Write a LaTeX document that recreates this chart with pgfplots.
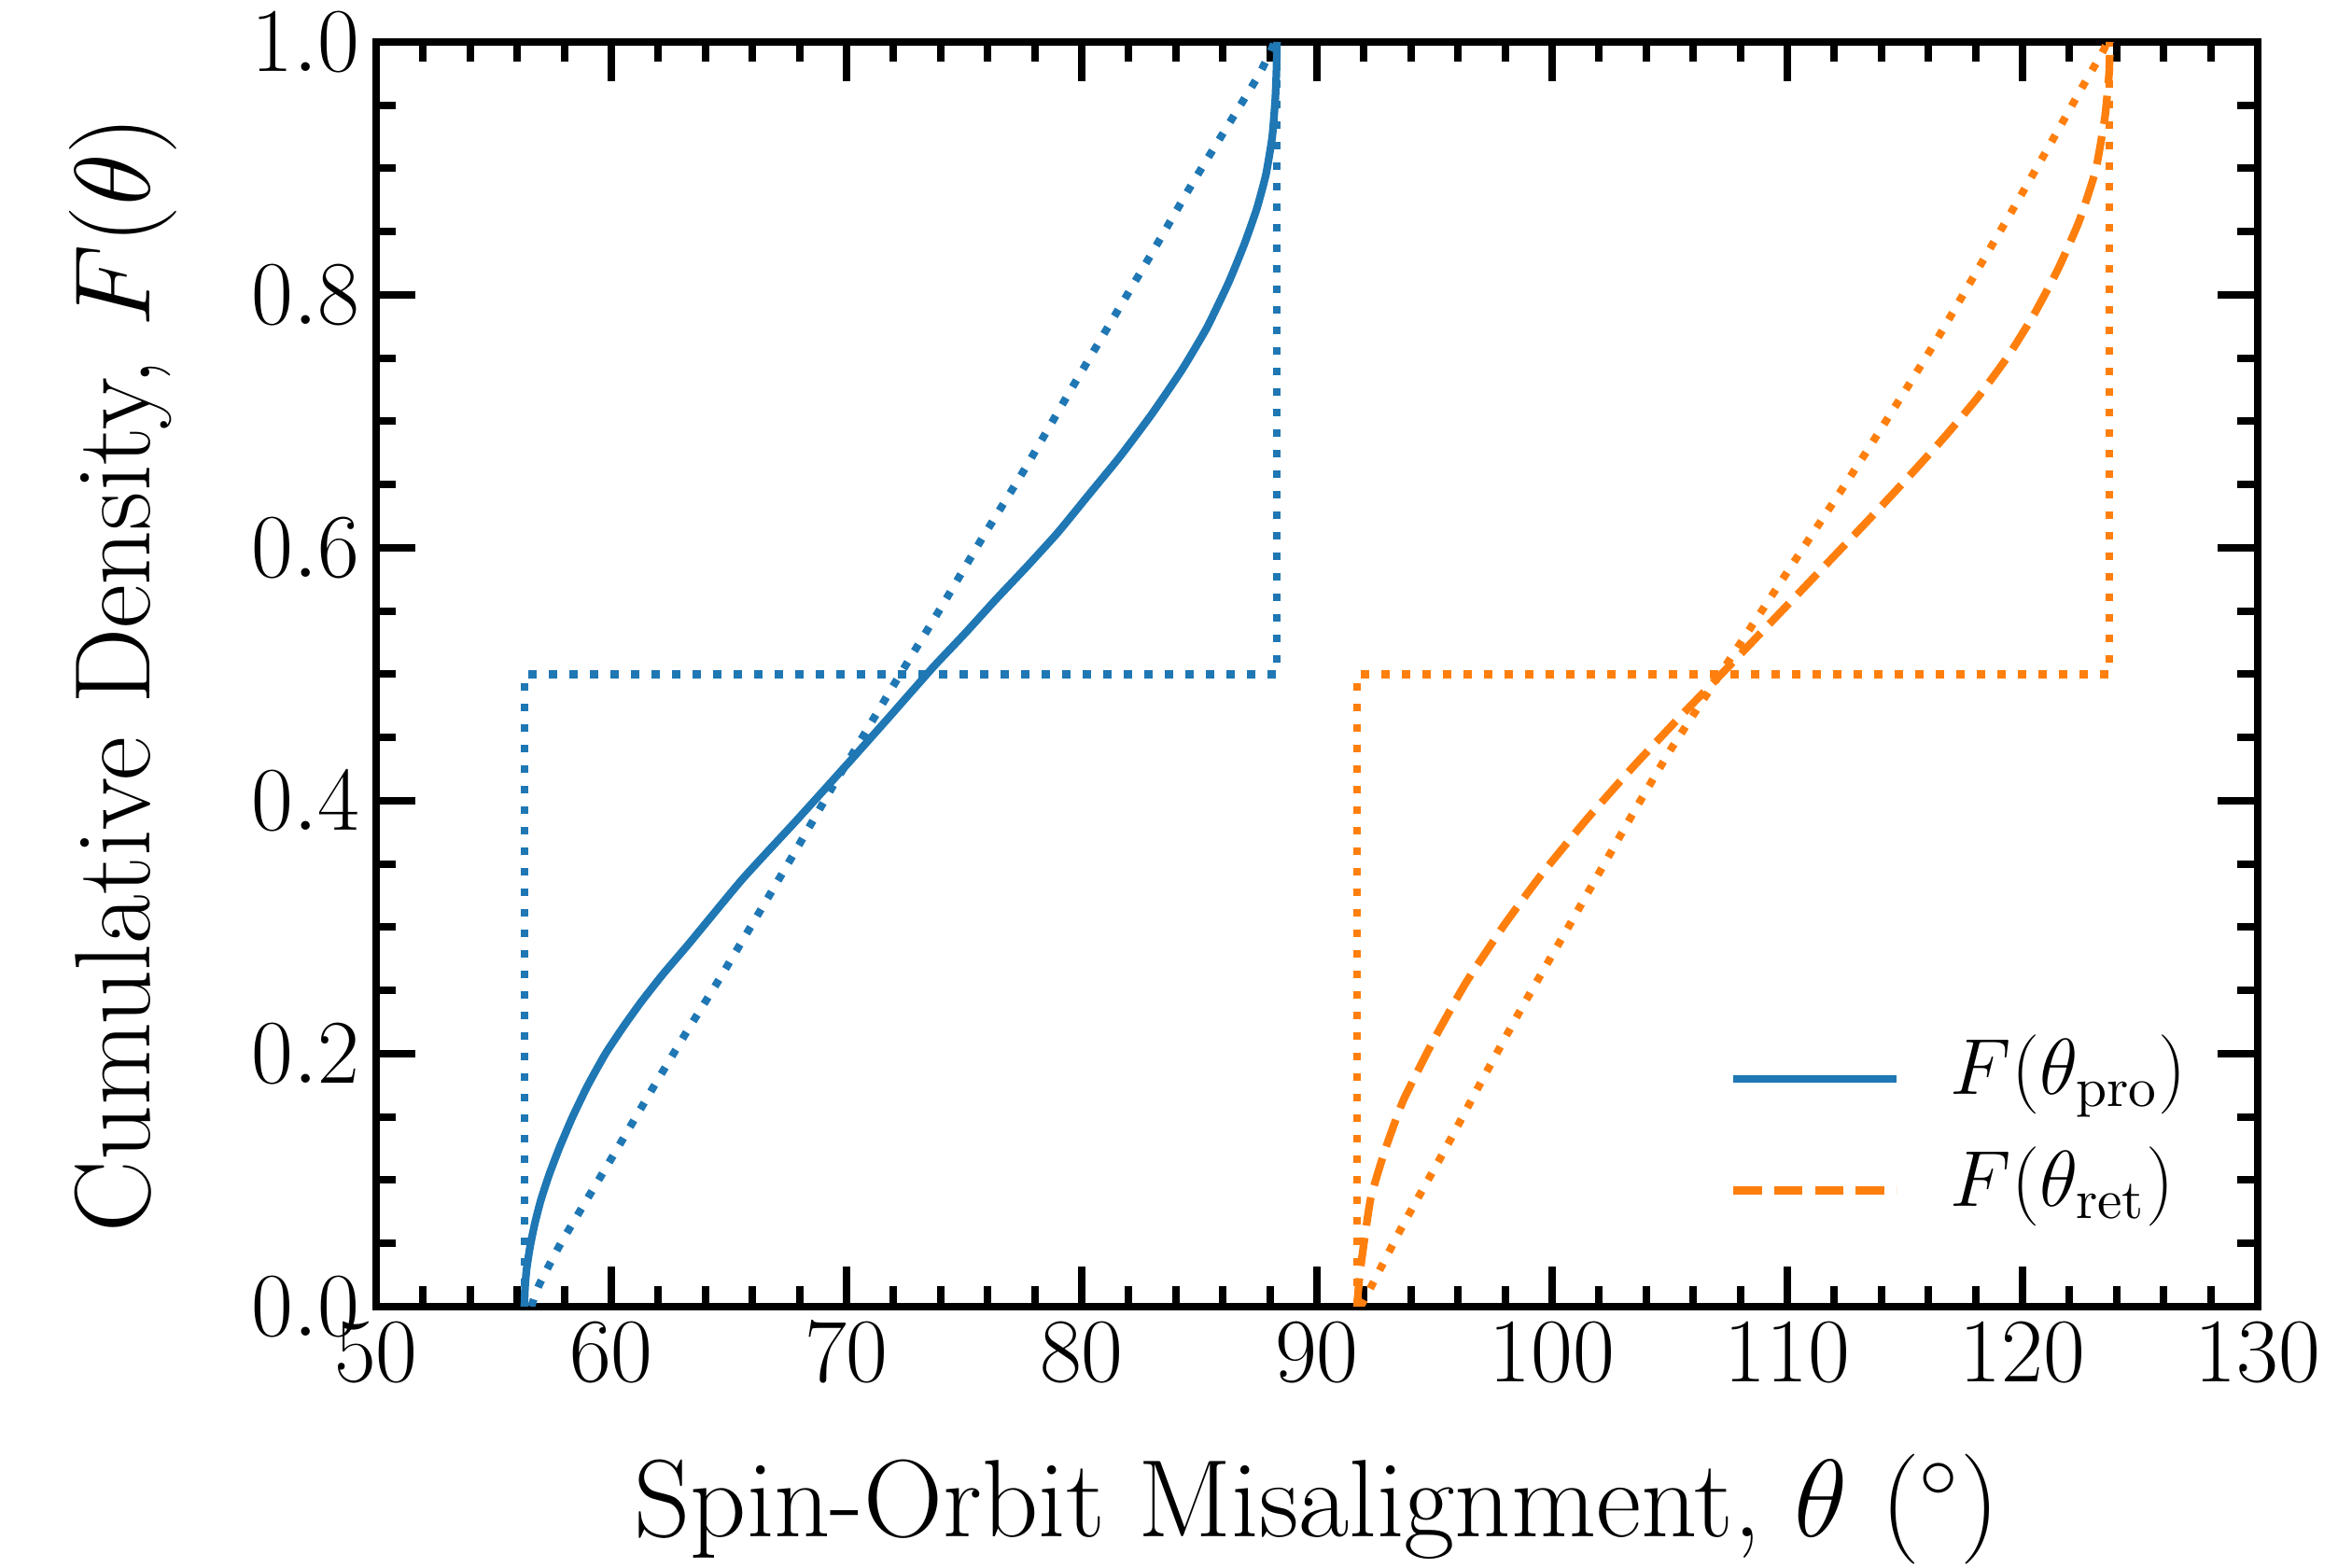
\RequirePackage{fix-cm}
\documentclass[border=0pt]{standalone}
\usepackage{pgfplots}
\pgfplotsset{compat=1.18}
\definecolor{tabblue}{HTML}{1F77B4}
\definecolor{taborange}{HTML}{FF7F0E}

\pgfplotstableread{
x F
56.30 0
56.33 0.015
56.40 0.03
56.55 0.048
56.75 0.066
57.00 0.084
57.35 0.104
57.80 0.126
58.35 0.150
59.00 0.175
59.75 0.200
60.50 0.221
61.27 0.241
62.20 0.263
63.30 0.287
65.57 0.338
67.85 0.384
70.13 0.431
71.90 0.468
73.70 0.506
75.02 0.532
76.34 0.559
77.66 0.585
78.98 0.612
80.30 0.642
81.62 0.672
82.95 0.705
84.27 0.741
85.32 0.774
86.25 0.810
86.91 0.840
87.44 0.868
87.83 0.895
88.10 0.925
88.23 0.955
88.28 0.978
88.30 1.0
}\proSolid

\pgfplotstableread{
x F
56.60 0
56.90 0.016
57.85 0.05
60.00 0.117
61.77 0.173
63.16 0.216
64.56 0.258
66.33 0.313
67.85 0.361
69.37 0.410
70.38 0.441
72.15 0.496
73.96 0.551
75.75 0.607
77.60 0.663
79.38 0.720
81.16 0.776
82.95 0.832
84.73 0.889
86.58 0.945
87.50 0.973
87.97 0.990
88.20 1.0
}\proDot

\pgfplotstableread{
x F
56.30 0
56.30 0.5
88.28 0.5
88.28 1.0
}\proStep

\pgfplotstableread{
x F
91.70 0
91.85 0.03
92.28 0.085
92.90 0.124
93.67 0.163
94.94 0.21
96.33 0.256
97.97 0.302
99.60 0.343
101.50 0.386
103.50 0.428
105.57 0.469
107.55 0.507
109.40 0.543
111.40 0.582
113.40 0.621
115.10 0.655
116.70 0.688
118.10 0.719
119.40 0.752
120.50 0.785
121.50 0.820
122.40 0.858
123.10 0.898
123.50 0.94
123.68 0.975
123.72 1.0
}\retDash

\pgfplotstableread{
x F
91.85 0
92.20 0.012
93.67 0.065
95.44 0.124
96.96 0.177
98.73 0.237
100.50 0.294
102.00 0.343
103.50 0.392
105.06 0.441
107.10 0.499
108.80 0.547
110.50 0.595
112.10 0.640
113.40 0.677
115.00 0.724
116.40 0.766
118.00 0.817
119.60 0.868
121.20 0.920
122.50 0.963
123.40 0.992
123.60 1.0
}\retDot

\pgfplotstableread{
x F
91.70 0
91.70 0.5
123.70 0.5
123.70 1.0
}\retStep

\begin{document}
\begin{tikzpicture}
\path[use as bounding box] (-80.6pt,-56pt) rectangle (423.4pt,280pt);
\begin{axis}[
  at={(0pt,0pt)}, anchor=south west, scale only axis,
  width=403.2pt, height=271pt,
  xmin=50, xmax=130, ymin=0, ymax=1,
  xtick={50,60,70,80,90,100,110,120,130},
  ytick={0,0.2,0.4,0.6,0.8,1},
  minor x tick num=4, minor y tick num=3,
  yticklabel style={/pgf/number format/.cd,fixed,fixed zerofill,precision=1},
  tick label style={font=\fontsize{19.5}{23}\selectfont},
  major tick length=8.5pt, minor tick length=4.3pt,
  tick style={black, line width=1.6pt},
  axis line style={line width=1.6pt},
  xlabel={Spin-Orbit Misalignment, $\theta$ ($^\circ$)},
  ylabel={Cumulative Density, $F(\theta)$},
  xlabel style={font=\fontsize{23.6}{28}\selectfont, at={(axis description cs:0.5,-0.1823)}, anchor=base},
  ylabel style={font=\fontsize{23}{27}\selectfont, at={(axis description cs:-0.1347,0.5)}, anchor=center},
  legend style={draw=none, fill=none, inner sep=0pt,
    at={(axis cs:107.5,0.0657)}, anchor=south west,
    font=\fontsize{17}{20}\selectfont, row sep=5.7pt, column sep=8.7pt},
  legend cell align=left,
  legend image code/.code={\path (0pt,-3pt) (0pt,3pt); \draw[#1] (0pt,-2.25pt) -- (35pt,-2.25pt);},
]
\addplot[tabblue, line width=1.65pt, smooth, tension=0.3] table[x=x,y=F] {\proSolid};
\addlegendentry{$F(\theta_{\rm pro})$}
\addplot[taborange, line width=1.65pt, dash pattern=on 6.1pt off 2.65pt, smooth, tension=0.3] table[x=x,y=F] {\retDash};
\addlegendentry{$F(\theta_{\rm ret})$}
\addplot[tabblue, line width=1.65pt, dash pattern=on 1.65pt off 2.75pt, smooth, tension=0.3, forget plot] table[x=x,y=F] {\proDot};
\addplot[tabblue, line width=1.65pt, dash pattern=on 1.65pt off 2.75pt, forget plot] table[x=x,y=F] {\proStep};
\addplot[taborange, line width=1.65pt, dash pattern=on 1.65pt off 2.75pt, smooth, tension=0.3, forget plot] table[x=x,y=F] {\retDot};
\addplot[taborange, line width=1.65pt, dash pattern=on 1.65pt off 2.75pt, forget plot] table[x=x,y=F] {\retStep};
\end{axis}
\end{tikzpicture}
\end{document}
